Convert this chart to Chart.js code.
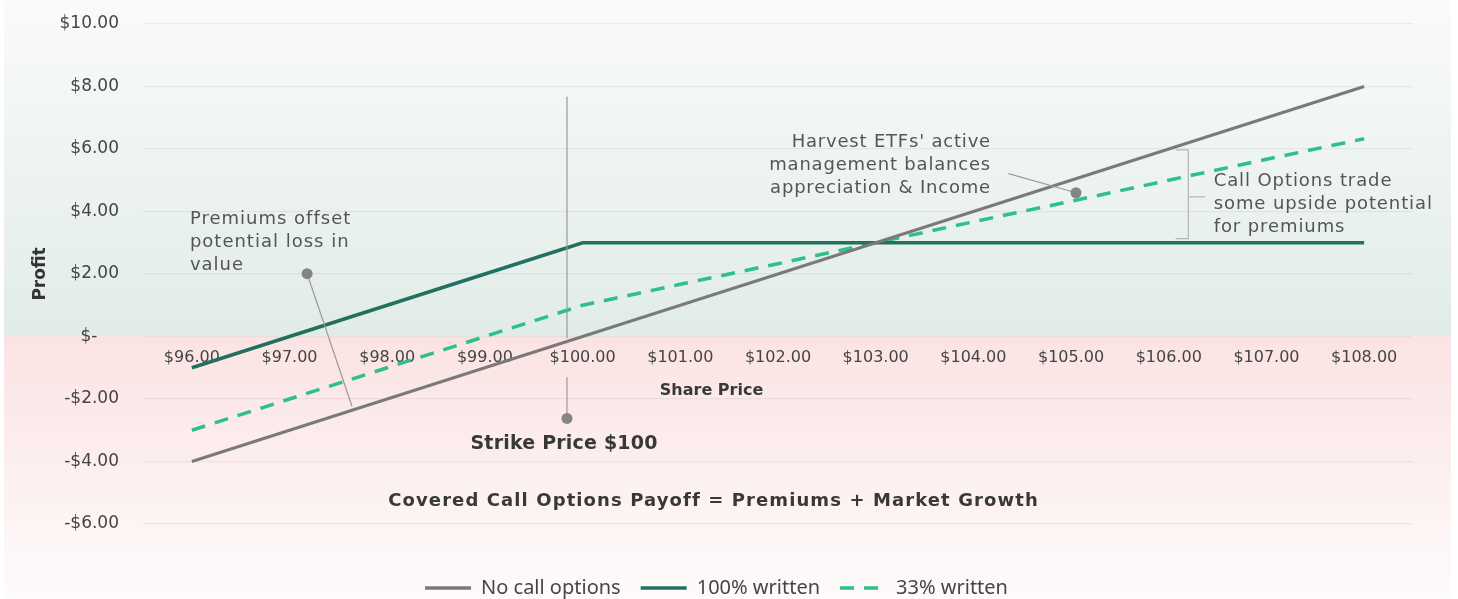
<!DOCTYPE html>
<html>
<head>
<meta charset="utf-8">
<style>
  html, body { margin: 0; padding: 0; background: #ffffff; }
  #wrap { width: 1458px; height: 599px; position: relative; }
</style>
<script src="https://cdn.jsdelivr.net/npm/chart.js@4.4.1/dist/chart.umd.min.js"></script>
</head>
<body>
<div id="wrap"><canvas id="c" width="1458" height="599"></canvas></div>
<script>
// ---------------- data ----------------
const sharePrices = [96, 97, 98, 99, 100, 101, 102, 103, 104, 105, 106, 107, 108];
const xTickLabels = ['$96.00', '$97.00', '$98.00', '$99.00', '$100.00', '$101.00', '$102.00',
                     '$103.00', '$104.00', '$105.00', '$106.00', '$107.00', '$108.00'];
const noCallOptions = [-4, -3, -2, -1, 0, 1, 2, 3, 4, 5, 6, 7, 8];
const written100    = [-1, 0, 1, 2, 3, 3, 3, 3, 3, 3, 3, 3, 3];
const written33     = [-3, -2, -1, 0, 1, 1.67, 2.33, 3, 3.67, 4.33, 5, 5.67, 6.33];
const yTickValues   = [10, 8, 6, 4, 2, 0, -2, -4, -6];
const yTickLabels   = ['$10.00', '$8.00', '$6.00', '$4.00', '$2.00', '$-    ', '-$2.00', '-$4.00', '-$6.00'];
const seriesNames   = ['No call options', '100% written', '33% written'];
const xAxisTitle    = 'Share Price';
const yAxisTitle    = 'Profit';

// ---------------- annotations (in data coordinates: share price / profit) ----------------
const strikePrice = 99.84;
const annotationTexts = [
  { lines: ['Premiums offset', 'potential loss in', 'value'], x: 95.98, y: 3.74, align: 'left',
    font: '18px "DejaVu Sans"', spacing: '1px', color: '#555555', lh: 23 },
  { lines: ["Harvest ETFs' active", 'management balances', 'appreciation & Income'], x: 104.18, y: 6.20, align: 'right',
    font: '18px "DejaVu Sans"', spacing: '0.8px', color: '#555555', lh: 23 },
  { lines: ['Call Options trade', 'some upside potential', 'for premiums'], x: 106.46, y: 4.95, align: 'left',
    font: '18px "DejaVu Sans"', spacing: '0.9px', color: '#555555', lh: 23 },
  { lines: ['Strike Price $100'], x: 99.81, y: -3.45, align: 'center',
    font: 'bold 19px "DejaVu Sans"', spacing: '0.2px', color: '#383838', lh: 23 },
  { lines: ['Covered Call Options Payoff = Premiums + Market Growth'], x: 101.34, y: -5.27, align: 'center',
    font: 'bold 18px "DejaVu Sans"', spacing: '1.1px', color: '#383838', lh: 23 },
  { lines: [xAxisTitle], x: 101.32, y: -1.75, align: 'center',
    font: 'bold 16px "DejaVu Sans"', spacing: '0px', color: '#383838', lh: 23 },
];
const leaderLines = [
  { from: [strikePrice, 7.67], to: [strikePrice, -0.05] },
  { from: [strikePrice, -1.3], to: [strikePrice, -2.62] },
  { from: [97.18, 2.01], to: [97.64, -2.24] },
  { from: [104.36, 5.21], to: [105.05, 4.6] },
];
const dots = [ [strikePrice, -2.62], [97.18, 2.01], [105.05, 4.6] ];
const bracket = { x: 106.2, top: 5.97, bottom: 3.13, mid: 4.47, armX: 106.07, tipX: 106.37 };

// ---------------- plugins ----------------
const backgroundPlugin = {
  id: 'bgBands',
  beforeDraw(chart) {
    const { ctx, width, height } = chart;
    const z = chart.scales.y.getPixelForValue(0);
    ctx.save();
    let g = ctx.createLinearGradient(0, 0, 0, z);
    g.addColorStop(0, '#fafbfb');
    g.addColorStop(1, '#e1ece7');
    ctx.fillStyle = g;
    ctx.fillRect(4, 0, width - 11, z);
    g = ctx.createLinearGradient(0, z, 0, height);
    g.addColorStop(0, '#fbe3e3');
    g.addColorStop(1, '#fefbfb');
    ctx.fillStyle = g;
    ctx.fillRect(4, z, width - 11, height - z);
    ctx.restore();
  }
};

const annotationPlugin = {
  id: 'notes',
  afterDatasetsDraw(chart) {
    const { ctx, scales: { x, y } } = chart;
    const px = p => x.getPixelForValue(p - sharePrices[0]);
    const py = v => y.getPixelForValue(v);
    ctx.save();
    ctx.strokeStyle = '#9a9a9a';
    ctx.lineWidth = 1.2;
    leaderLines.forEach(l => {
      ctx.beginPath();
      ctx.moveTo(px(l.from[0]), py(l.from[1]));
      ctx.lineTo(px(l.to[0]), py(l.to[1]));
      ctx.stroke();
    });
    ctx.strokeStyle = '#b5b5b5';
    ctx.beginPath();
    ctx.moveTo(px(bracket.armX), py(bracket.top));
    ctx.lineTo(px(bracket.x), py(bracket.top));
    ctx.lineTo(px(bracket.x), py(bracket.bottom));
    ctx.lineTo(px(bracket.armX), py(bracket.bottom));
    ctx.moveTo(px(bracket.x), py(bracket.mid));
    ctx.lineTo(px(bracket.tipX), py(bracket.mid));
    ctx.stroke();
    ctx.fillStyle = '#858585';
    dots.forEach(d => {
      ctx.beginPath();
      ctx.arc(px(d[0]), py(d[1]), 5.5, 0, Math.PI * 2);
      ctx.fill();
    });
    ctx.textBaseline = 'middle';
    annotationTexts.forEach(t => {
      ctx.font = t.font;
      ctx.fillStyle = t.color;
      ctx.textAlign = t.align;
      if ('letterSpacing' in ctx) ctx.letterSpacing = t.spacing;
      t.lines.forEach((line, i) => ctx.fillText(line, px(t.x), py(t.y) + i * t.lh));
    });
    if ('letterSpacing' in ctx) ctx.letterSpacing = '0px';
    ctx.restore();
  }
};

// ---------------- chart ----------------
new Chart(document.getElementById('c'), {
  type: 'line',
  data: {
    labels: xTickLabels,
    datasets: [
      { label: seriesNames[0], data: noCallOptions, borderColor: '#7a7a7a', backgroundColor: '#7a7a7a',
        borderWidth: 3, pointRadius: 0, fill: false, tension: 0 },
      { label: seriesNames[1], data: written100, borderColor: '#22705f', backgroundColor: '#22705f',
        borderWidth: 3.5, pointRadius: 0, fill: false, tension: 0 },
      { label: seriesNames[2], data: written33, borderColor: '#2fbf8b', backgroundColor: '#2fbf8b',
        borderWidth: 3.5, borderDash: [14, 10], pointRadius: 0, fill: false, tension: 0 },
    ]
  },
  options: {
    responsive: false,
    devicePixelRatio: 1,
    animation: false,
    layout: { padding: { left: 20, right: 45, top: 24, bottom: -9 } },
    plugins: {
      tooltip: { enabled: false },
      legend: {
        position: 'bottom',
        labels: {
          usePointStyle: true,
          pointStyle: 'line',
          pointStyleWidth: 46,
          padding: 20,
          color: '#454545',
          font: { family: '"Noto Sans"', size: 20 },
          generateLabels(chart) {
            return chart.data.datasets.map((ds, i) => ({
              text: ds.label,
              datasetIndex: i,
              fillStyle: ds.borderColor,
              strokeStyle: ds.borderColor,
              lineWidth: 3.5,
              lineDash: ds.borderDash || [],
              lineCap: 'butt',
              pointStyle: 'line',
              hidden: false,
              fontColor: '#454545'
            }));
          }
        }
      }
    },
    scales: {
      x: {
        type: 'category',
        position: { y: 0 },
        offset: true,
        grid: { display: false, drawTicks: false },
        border: { display: false },
        ticks: {
          padding: 12, autoSkip: false, maxRotation: 0, color: '#444444',
          font: { family: '"DejaVu Sans"', size: 16 }
        }
      },
      x2: {
        type: 'category',
        position: 'bottom',
        grid: { display: false },
        border: { display: false },
        ticks: { display: false },
        afterFit(scale) { scale.height = 34; }
      },
      y: {
        min: -6, max: 10,
        afterBuildTicks(scale) { scale.ticks = yTickValues.map(v => ({ value: v })); },
        afterFit(scale) { scale.width = 123; },
        grid: { color: 'rgba(0,0,0,0.055)', drawTicks: true, tickLength: 20, tickColor: 'rgba(0,0,0,0)', lineWidth: 1.2 },
        border: { display: false },
        ticks: {
          padding: 4, color: '#444444',
          font: { family: '"DejaVu Sans"', size: 17 },
          callback: (v) => yTickLabels[yTickValues.indexOf(v)]
        },
        title: {
          display: true, text: yAxisTitle, color: '#333333',
          font: { family: '"DejaVu Sans"', size: 17, weight: 'bold' },
          padding: { top: 10, bottom: 0 }
        }
      }
    }
  },
  plugins: [backgroundPlugin, annotationPlugin]
});
</script>
</body>
</html>
